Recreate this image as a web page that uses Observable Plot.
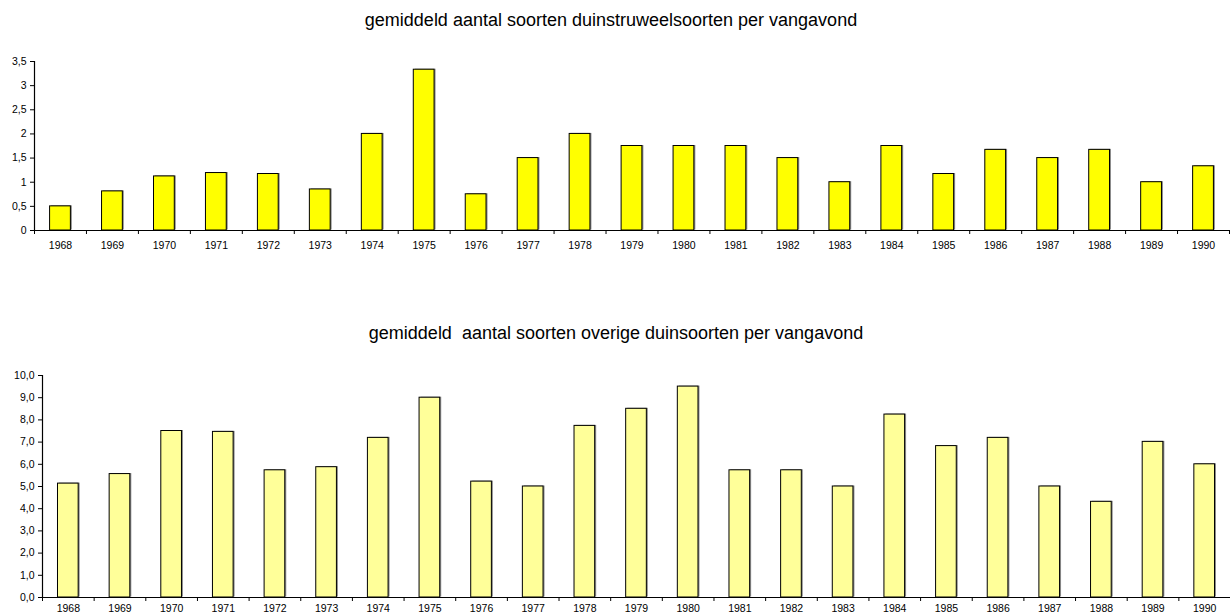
<!DOCTYPE html>
<html>
<head>
<meta charset="utf-8">
<script src="https://cdn.jsdelivr.net/npm/d3@7"></script>
<script src="https://cdn.jsdelivr.net/npm/@observablehq/plot@0.6"></script>
<style>
  html, body { margin: 0; padding: 0; background: #fff; overflow: hidden; width: 1230px; height: 615px; }
  body { font-family: "Liberation Sans", Arial, sans-serif; color: #000; }
  .title { position: absolute; left: 0; width: 1230px; text-align: center; font-size: 18px; white-space: pre; line-height: 22px; }
  .chart { position: absolute; left: 0; }
  svg { display: block; }
</style>
</head>
<body>
<div class="title" id="t1" style="top: 9px; left: -4px;"></div>
<div class="chart" id="c1" style="top: 40px;"></div>
<div class="title" id="t2" style="top: 322px; left: 1px;"></div>
<div class="chart" id="c2" style="top: 350px;"></div>
<script>
// Seizoenen 1968–1990
const years = [1968, 1969, 1970, 1971, 1972, 1973, 1974, 1975, 1976, 1977, 1978, 1979,
               1980, 1981, 1982, 1983, 1984, 1985, 1986, 1987, 1988, 1989, 1990];

// gemiddeld aantal duinstruweelsoorten per vangavond
const struweel = [0.50, 0.81, 1.12, 1.19, 1.17, 0.85, 2.00, 3.33, 0.75, 1.50, 2.00, 1.75,
                  1.75, 1.75, 1.50, 1.00, 1.75, 1.17, 1.67, 1.50, 1.67, 1.00, 1.33];

// gemiddeld aantal overige duinsoorten per vangavond
const overig = [5.13, 5.56, 7.50, 7.46, 5.73, 5.87, 7.19, 9.00, 5.22, 5.00, 7.73, 8.50,
                9.50, 5.73, 5.73, 5.00, 8.24, 6.82, 7.19, 5.00, 4.31, 7.01, 6.00];

const title1 = "gemiddeld aantal soorten duinstruweelsoorten per vangavond";
const title2 = "gemiddeld  aantal soorten overige duinsoorten per vangavond";

const ticks1 = [0, 0.5, 1, 1.5, 2, 2.5, 3, 3.5];
const ticks2 = [0, 1, 2, 3, 4, 5, 6, 7, 8, 9, 10];

// category boundaries (tick marks sit between the years)
const bounds = years.map(y => y - 0.5).concat([years[years.length - 1] + 0.5]);

const comma = (digits) => (v) => v.toFixed(digits).replace(".", ",");
const fmt1 = (v) => (Number.isInteger(v) ? String(v) : comma(1)(v));

function barChart({values, fill, yDomain, yTicks, yFormat, height, marginTop, marginLeft, marginRight, xPad}) {
  const data = years.map((year, i) => ({year, value: values[i]}));
  const half = 0.2; // bar width = 40% of a category
  return Plot.plot({
    width: 1230,
    height,
    marginTop,
    marginLeft,
    marginRight,
    marginBottom: 30,
    style: {fontFamily: "Liberation Sans, Arial, sans-serif", fontSize: "10.5px", color: "#000", background: "transparent"},
    x: {domain: [years[0] - 0.5, years[years.length - 1] + 0.5]},
    y: {domain: yDomain},
    marks: [
      // drop shadow
      Plot.rectY(data, {x1: d => d.year - half, x2: d => d.year + half, y: "value", fill: "#8c8c8c", dx: 1.5, dy: -0.5}),
      Plot.rectY(data, {x1: d => d.year - half, x2: d => d.year + half, y: "value", fill, stroke: "#000", strokeWidth: 1}),
      Plot.ruleY([0], {stroke: "#000", strokeWidth: 1.2}),
      Plot.ruleX([years[0] - 0.5], {stroke: "#000", strokeWidth: 1.2}),
      Plot.axisY(yTicks, {tickSize: 4, tickPadding: 4, tickFormat: yFormat, label: null, stroke: "#000"}),
      Plot.axisX(bounds, {tickSize: 4, tickFormat: () => "", label: null, stroke: "#000"}),
      Plot.axisX(years, {tickSize: 0, tickPadding: xPad, tickFormat: d => String(d), label: null})
    ]
  });
}

document.getElementById("t1").textContent = title1;
document.getElementById("t2").textContent = title2;

document.getElementById("c1").append(barChart({
  values: struweel,
  fill: "#ffff00",
  yDomain: [0, 3.5],
  yTicks: ticks1,
  yFormat: fmt1,
  height: 220,
  marginTop: 21,
  marginLeft: 34,
  marginRight: 1,
  xPad: 11
}));

document.getElementById("c2").append(barChart({
  values: overig,
  fill: "#ffff99",
  yDomain: [0, 10],
  yTicks: ticks2,
  yFormat: comma(1),
  height: 277,
  marginTop: 25,
  marginLeft: 42,
  marginRight: 0,
  xPad: 7
}));
</script>
</body>
</html>
